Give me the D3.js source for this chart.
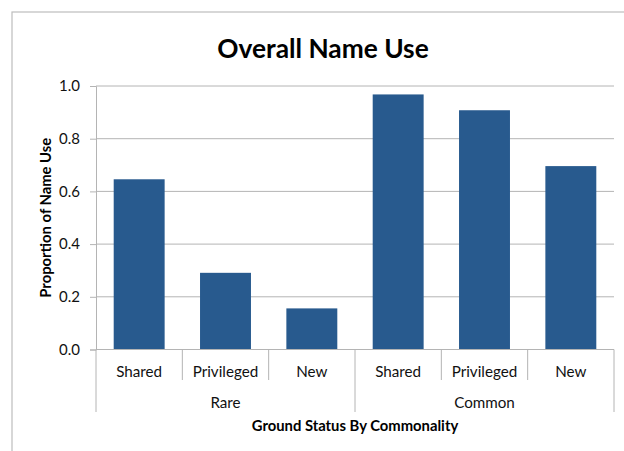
<!DOCTYPE html>
<html><head><meta charset="utf-8">
<script src="https://cdn.jsdelivr.net/npm/d3@7"></script>
<style>
html,body{margin:0;padding:0;background:#fff;}
svg{display:block;font-family:Lato,"Open Sans",sans-serif;}
</style></head>
<body><svg id="chart" width="624" height="451"></svg>
<script>
const groups = ["Rare", "Common"];
const categories = ["Shared", "Privileged", "New"];
const rareValues = [0.646, 0.291, 0.156];
const commonValues = [0.968, 0.908, 0.696];
const yTicks = [0, 0.2, 0.4, 0.6, 0.8, 1.0];
const title = "Overall Name Use";
const xTitle = "Ground Status By Commonality";
const yTitle = "Proportion of Name Use";

(function () {
const rows = [];
groups.forEach((g, gi) => {
  const vals = gi === 0 ? rareValues : commonValues;
  categories.forEach((c, ci) => rows.push({key: g + "|" + c, group: g, cat: c, value: vals[ci]}));
});

const svg = d3.select("#chart");
const pLeft = 96, pRight = 614, pTop = 86, pBottom = 349.5;
const grid = "#b4b4b4";

// outer border
svg.append("rect").attr("x", 12).attr("y", 12).attr("width", 640).attr("height", 460)
  .attr("fill", "none").attr("stroke", "#bdbdbd").attr("stroke-width", 1.2);

const x = d3.scaleBand().domain(rows.map(d => d.key)).range([pLeft, pRight])
  .paddingInner(0.41).paddingOuter(0.205);
const y = d3.scaleLinear().domain([0, 1]).range([pBottom, pTop]);

// gridlines
svg.append("g").selectAll("line").data(yTicks.filter(t => t > 0)).join("line")
  .attr("x1", pLeft).attr("x2", pRight).attr("y1", d => y(d)).attr("y2", d => y(d))
  .attr("stroke", grid).attr("stroke-width", 1);

// y axis
const yAxis = svg.append("g").attr("transform", `translate(${pLeft},0)`)
  .call(d3.axisLeft(y).tickValues(yTicks).tickFormat(d3.format(".1f")).tickSize(6).tickPadding(10));
yAxis.select(".domain").attr("stroke", grid);
yAxis.selectAll(".tick line").attr("stroke", grid);
yAxis.selectAll("text").attr("font-size", "15px").attr("fill", "#111").attr("font-family", "Lato");

// bars
svg.append("g").selectAll("rect").data(rows).join("rect")
  .attr("x", d => x(d.key)).attr("width", x.bandwidth())
  .attr("y", d => y(d.value)).attr("height", d => y(0) - y(d.value))
  .attr("fill", "#285a8e");

// x axis line
svg.append("line").attr("x1", pLeft).attr("x2", pRight).attr("y1", pBottom).attr("y2", pBottom)
  .attr("stroke", grid).attr("stroke-width", 1);

const step = x.step();
// category dividers
const divs = d3.range(rows.length + 1);
svg.append("g").selectAll("line").data(divs).join("line")
  .attr("x1", i => pLeft + i * step).attr("x2", i => pLeft + i * step)
  .attr("y1", pBottom)
  .attr("y2", i => (i % categories.length === 0) ? 412 : 380)
  .attr("stroke", grid).attr("stroke-width", 1);

// category labels
svg.append("g").selectAll("text").data(rows).join("text")
  .attr("x", d => x(d.key) + x.bandwidth() / 2).attr("y", 377)
  .attr("text-anchor", "middle").attr("font-size", "15.2px").attr("fill", "#111")
  .text(d => d.cat);

// group labels
svg.append("g").selectAll("text").data(groups).join("text")
  .attr("x", (g, gi) => pLeft + (gi * categories.length + categories.length / 2) * step)
  .attr("y", 407.5).attr("text-anchor", "middle").attr("font-size", "15.2px").attr("fill", "#111")
  .text(g => g);

// titles
svg.append("text").attr("x", 323).attr("y", 58).attr("text-anchor", "middle")
  .attr("font-size", "26.3px").attr("font-weight", "bold").attr("fill", "#000").text(title);
svg.append("text").attr("x", (pLeft + pRight) / 2).attr("y", 430.5).attr("text-anchor", "middle")
  .attr("font-size", "14.8px").attr("font-weight", "bold").attr("fill", "#000").text(xTitle);
svg.append("text").attr("transform", `translate(51,${(pTop + pBottom) / 2}) rotate(-90)`)
  .attr("text-anchor", "middle").attr("font-size", "14.8px").attr("font-weight", "bold").attr("fill", "#000")
  .text(yTitle);
})();
</script></body></html>
